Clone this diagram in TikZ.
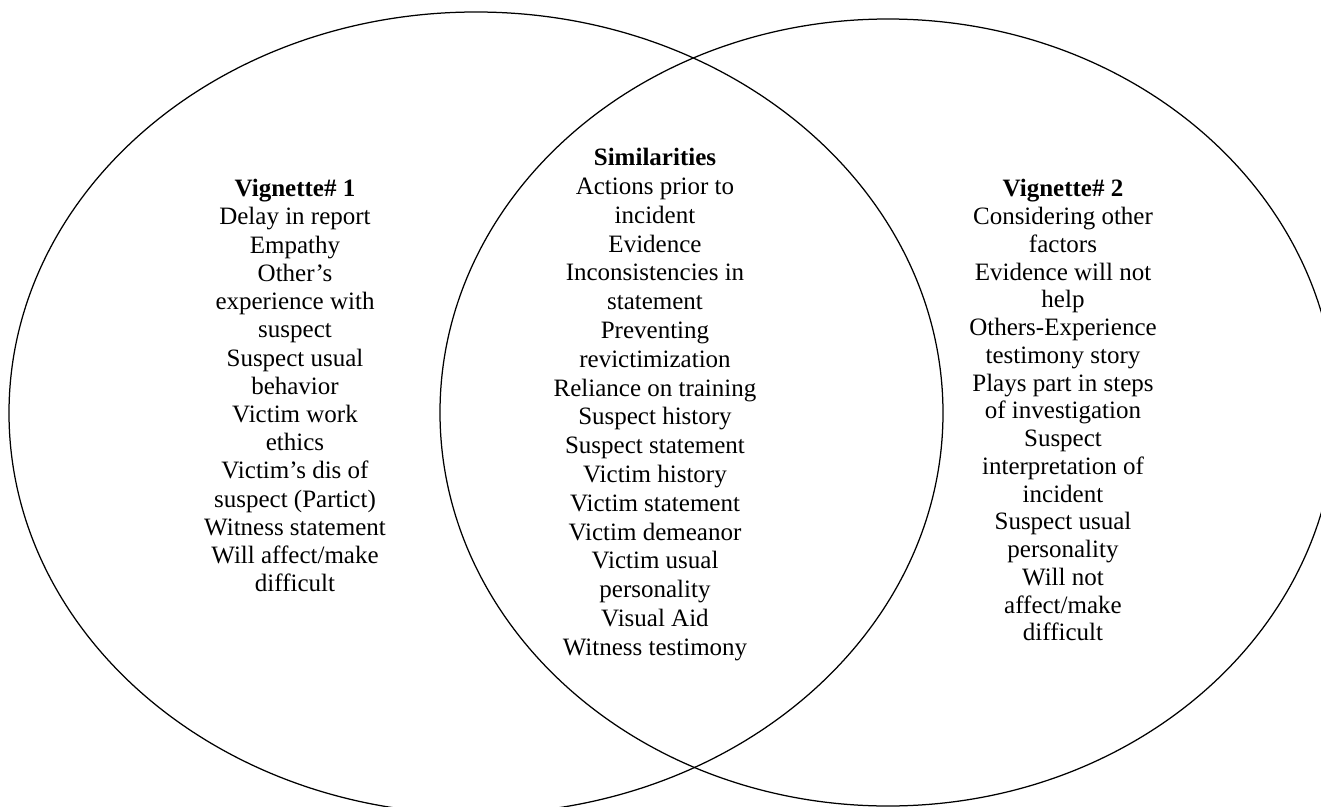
\documentclass[tikz,border=0pt]{standalone}
\usepackage{fontspec}
\setmainfont{Liberation Serif}
\begin{document}
\begin{tikzpicture}[x=0.48pt,y=-0.48pt,
  venn/.style={draw=black,line width=0.6pt},
  listtext/.style={anchor=north,align=center,inner sep=0pt}]
\useasboundingbox (0,0) rectangle (1321,807);
\clip (0,0) rectangle (1321,807);
\fill[white] (0,0) rectangle (1321,807);
\draw[venn] (476,413) ellipse [x radius=467, y radius=401];
\draw[venn] (888,412.5) ellipse [x radius=448, y radius=393.5];
\node[listtext,font=\fontsize{12pt}{13.54pt}\selectfont] (v1) at (295,179) {\textbf{Vignette\# 1}\\Delay in report\\Empathy\\Other’s\\experience with\\suspect\\Suspect usual\\behavior\\Victim work\\ethics\\Victim’s dis of\\suspect (Partict)\\Witness statement\\Will affect/make\\difficult};
\node[listtext,font=\fontsize{12pt}{13.82pt}\selectfont] (sim) at (655,148) {\textbf{Similarities}\\Actions prior to\\incident\\Evidence\\Inconsistencies in\\statement\\Preventing\\revictimization\\Reliance on training\\Suspect history\\Suspect statement\\Victim history\\Victim statement\\Victim demeanor\\Victim usual\\personality\\Visual Aid\\Witness testimony};
\node[listtext,font=\fontsize{12pt}{13.32pt}\selectfont] (v2) at (1063,179) {\textbf{Vignette\# 2}\\Considering other\\factors\\Evidence will not\\help\\Others-Experience\\testimony story\\Plays part in steps\\of investigation\\Suspect\\interpretation of\\incident\\Suspect usual\\personality\\Will not\\affect/make\\difficult};
\end{tikzpicture}
\end{document}
